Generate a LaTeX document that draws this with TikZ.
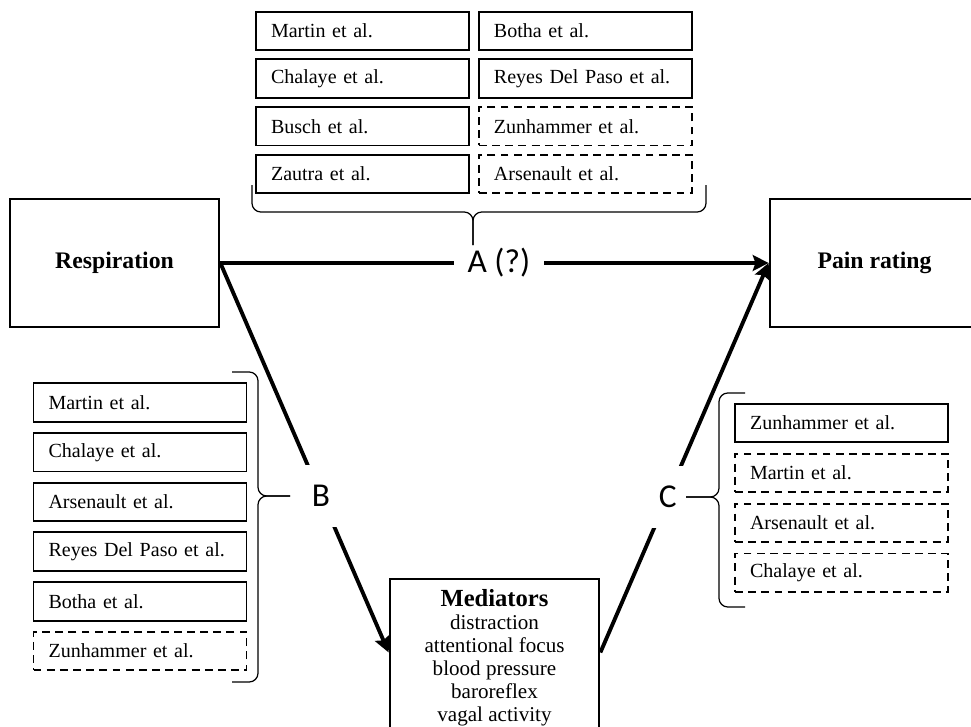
\documentclass[tikz,border=0pt]{standalone}
\usepackage{fontspec}
\setmainfont{Liberation Serif}
\newfontfamily\labelfont{Carlito}
\usetikzlibrary{positioning,arrows.meta}

\begin{document}
\begin{tikzpicture}[x=0.02cm, y=-0.02cm,
  ref/.style={draw, line width=1.1pt, text width=3.66cm, inner xsep=0.3cm,
    minimum height=0.77cm, align=left, font=\fontsize{11.4}{13}\selectfont},
  refdash/.style={ref, dash pattern=on 4.5pt off 3pt},
  main/.style={draw, line width=1.6pt, minimum width=4.18cm, minimum height=2.56cm,
    font=\fontsize{13.5}{16}\selectfont\bfseries},
  arr/.style={line width=2.2pt, -{Stealth[length=9pt,width=9pt,inset=1.5pt]}},
  lbl/.style={fill=white, inner xsep=0.28cm, inner ysep=0.4cm,
    font=\labelfont\fontsize{19}{22}\selectfont},
  brc/.style={line width=0.7pt, rounded corners=5pt}]
 \useasboundingbox (0,0) rectangle (971,727);

 \node[main] (resp) at (114.5,263) {Respiration};
 \node[main] (pain) at (874.5,263) {Pain rating};
 \node[main, minimum height=3.16cm, align=center, font=\fontsize{12}{13.1}\selectfont]
  (med) at (494.5,658) {{\fontsize{14}{16}\selectfont\bfseries Mediators}\\ distraction\\
  attentional focus\\ blood pressure\\ baroreflex\\ vagal activity};

 \node[ref] (a1) at (362.5,31) {Martin et al.};
 \node[ref, below=0.144cm of a1] (a2) {Chalaye et al.};
 \node[ref, below=0.144cm of a2] (a3) {Busch et al.};
 \node[ref, below=0.144cm of a3] (a4) {Zautra et al.};
 \node[ref, right=0.16cm of a1] (a5) {Botha et al.};
 \node[ref, right=0.16cm of a2] (a6) {Reyes Del Paso et al.};
 \node[refdash, right=0.16cm of a3] (a7) {Zunhammer et al.};
 \node[refdash, right=0.16cm of a4] (a8) {Arsenault et al.};

 \node[ref] (b1) at (140,402.5) {Martin et al.};
 \node[ref, below=0.186cm of b1] (b2) {Chalaye et al.};
 \node[ref, below=0.186cm of b2] (b3) {Arsenault et al.};
 \node[ref, below=0.186cm of b3] (b4) {Reyes Del Paso et al.};
 \node[ref, below=0.186cm of b4] (b5) {Botha et al.};
 \node[refdash, below=0.186cm of b5] (b6) {Zunhammer et al.};

 \node[ref] (c1) at (841.5,423) {Zunhammer et al.};
 \node[refdash, below=0.19cm of c1] (c2) {Martin et al.};
 \node[refdash, below=0.19cm of c2] (c3) {Arsenault et al.};
 \node[refdash, below=0.19cm of c3] (c4) {Chalaye et al.};

 \draw[arr] (resp.east) -- node[lbl, pos=0.508] (la) {A (?)} (pain.west);
 \draw[arr] (resp.east) -- node[lbl, pos=0.598] (lb) {B} (med.177);
 \draw[arr] (med.3) -- node[lbl, pos=0.4] (lc) {C} (pain.west);

 \draw[brc] (252,185) |- (473,212) -- (473,245);
 \draw[brc] (706,185) |- (473,212) -- (473,245);
 \draw[brc] (232,372) -| (258,496) -- (290,496);
 \draw[brc] (232,682) -| (258,496) -- (290,496);
 \draw[brc] (745,393) -| (719,497) -- (686,497);
 \draw[brc] (745,607) -| (719,497) -- (686,497);
\end{tikzpicture}
\end{document}
